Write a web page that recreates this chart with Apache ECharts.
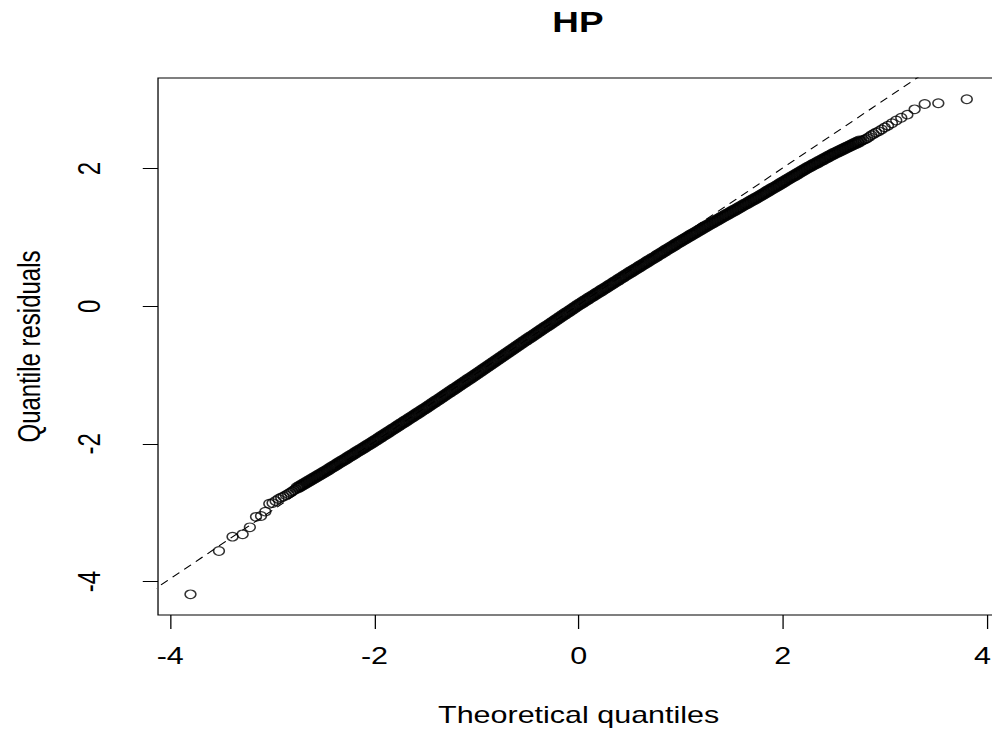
<!DOCTYPE html>
<html>
<head>
<meta charset="utf-8">
<title>HP</title>
<script src="https://cdn.jsdelivr.net/npm/echarts@6.0.0/dist/echarts.min.js"></script>
<style>
  html, body { margin: 0; padding: 0; background: #fff; overflow: hidden; }
  /* the plot is laid out narrow and widened horizontally, like the stretched R device output */
  #chart { width: 781px; height: 730px; transform: scaleX(1.2702); transform-origin: 0 0; }
</style>
</head>
<body>
<div id="chart"></div>
<script>
// Normal Q-Q plot of quantile residuals (model "HP").
const chartTitle = 'HP';
const xTitle = 'Theoretical quantiles';
const yTitle = 'Quantile residuals';
const xTicks = [-4, -2, 0, 2, 4];
const yTicks = [-4, -2, 0, 2];

// reference line (qqline): residual = intercept + slope * theoretical
const qqIntercept = 0.021;
const qqSlope = 0.995;

// sparse lower tail [theoretical, sample]
const lowerTail = [
  [-3.802,-4.186],[-3.523,-3.557],[-3.390,-3.349],[-3.291,-3.314],[-3.220,-3.212],
  [-3.160,-3.060],[-3.111,-3.048],[-3.069,-2.985],[-3.030,-2.870],[-2.998,-2.860],
  [-2.968,-2.830],[-2.940,-2.800],[-2.913,-2.780],[-2.890,-2.765],[-2.867,-2.745],
  [-2.846,-2.727],[-2.826,-2.709],[-2.807,-2.691],[-2.789,-2.674],[-2.772,-2.657]
];

// dense body, lower part
const bodyLow = [
  [-2.750,-2.635],[-2.725,-2.613],[-2.700,-2.591],[-2.675,-2.569],[-2.650,-2.548],[-2.625,-2.526],
  [-2.600,-2.504],[-2.575,-2.482],[-2.550,-2.460],[-2.525,-2.438],[-2.500,-2.417],
  [-2.475,-2.394],[-2.450,-2.371],[-2.425,-2.348],[-2.400,-2.325],[-2.375,-2.302],[-2.350,-2.279],
  [-2.325,-2.257],[-2.300,-2.234],[-2.275,-2.211],[-2.250,-2.188],
  [-2.225,-2.165],[-2.200,-2.142],[-2.175,-2.119],[-2.150,-2.096],[-2.125,-2.073],[-2.100,-2.051],
  [-2.075,-2.028],[-2.050,-2.005],[-2.025,-1.982],[-2.000,-1.959],
  [-1.975,-1.935],[-1.950,-1.911],[-1.925,-1.887],[-1.900,-1.864],[-1.875,-1.840],[-1.850,-1.816],
  [-1.825,-1.792],[-1.800,-1.768],[-1.775,-1.744],[-1.750,-1.720],
  [-1.725,-1.696],[-1.700,-1.673],[-1.675,-1.649],[-1.650,-1.625],[-1.625,-1.601],[-1.600,-1.577],
  [-1.575,-1.553],[-1.550,-1.529],[-1.525,-1.505],[-1.500,-1.481],
  [-1.475,-1.457],[-1.450,-1.432],[-1.425,-1.407],[-1.400,-1.382],[-1.375,-1.357],[-1.350,-1.332],
  [-1.325,-1.307],[-1.300,-1.283],[-1.275,-1.258],[-1.250,-1.233],
  [-1.225,-1.208],[-1.200,-1.183],[-1.175,-1.158],[-1.150,-1.133],[-1.125,-1.108],[-1.100,-1.084],
  [-1.075,-1.059],[-1.050,-1.034],[-1.025,-1.009],[-1.000,-0.984]
];

// dense body, middle part
const bodyMid = [
  [-0.975,-0.959],[-0.950,-0.933],[-0.925,-0.908],[-0.900,-0.883],[-0.875,-0.857],[-0.850,-0.832],
  [-0.825,-0.806],[-0.800,-0.781],[-0.775,-0.756],[-0.750,-0.730],
  [-0.725,-0.705],[-0.700,-0.680],[-0.675,-0.654],[-0.650,-0.629],[-0.625,-0.603],[-0.600,-0.578],
  [-0.575,-0.553],[-0.550,-0.527],[-0.525,-0.502],[-0.500,-0.477],
  [-0.475,-0.452],[-0.450,-0.427],[-0.425,-0.402],[-0.400,-0.377],[-0.375,-0.352],[-0.350,-0.327],
  [-0.325,-0.302],[-0.300,-0.278],[-0.275,-0.253],[-0.250,-0.228],
  [-0.225,-0.203],[-0.200,-0.178],[-0.175,-0.153],[-0.150,-0.128],[-0.125,-0.103],[-0.100,-0.079],
  [-0.075,-0.054],[-0.050,-0.029],[-0.025,-0.004],[0.000,0.021],
  [0.025,0.044],[0.050,0.068],[0.075,0.091],[0.100,0.115],[0.125,0.138],[0.150,0.161],
  [0.175,0.185],[0.200,0.208],[0.225,0.231],[0.250,0.255],
  [0.275,0.278],[0.300,0.302],[0.325,0.325],[0.350,0.348],[0.375,0.372],[0.400,0.395],
  [0.425,0.418],[0.450,0.442],[0.475,0.465],[0.500,0.489],
  [0.525,0.511],[0.550,0.534],[0.575,0.557],[0.600,0.580],[0.625,0.603],[0.650,0.626],
  [0.675,0.649],[0.700,0.672],[0.725,0.694],[0.750,0.717],
  [0.775,0.740],[0.800,0.763],[0.825,0.786],[0.850,0.809],[0.875,0.832],[0.900,0.855],
  [0.925,0.877],[0.950,0.900],[0.975,0.923],[1.000,0.946]
];

// dense body, upper part (bends below the reference line)
const bodyHigh = [
  [1.025,0.968],[1.050,0.990],[1.075,1.012],[1.100,1.034],[1.125,1.055],[1.150,1.077],[1.175,1.099],[1.200,1.121],
  [1.225,1.143],[1.250,1.165],[1.275,1.186],[1.300,1.207],[1.325,1.227],[1.350,1.248],[1.375,1.269],[1.400,1.290],
  [1.425,1.311],[1.450,1.332],[1.475,1.353],[1.500,1.374],[1.525,1.394],[1.550,1.415],[1.575,1.436],[1.600,1.457],
  [1.625,1.478],[1.650,1.499],[1.675,1.520],[1.700,1.541],[1.725,1.561],[1.750,1.582],[1.775,1.604],[1.800,1.626],
  [1.825,1.648],[1.850,1.670],[1.875,1.692],[1.900,1.714],[1.925,1.735],[1.950,1.757],[1.975,1.779],[2.000,1.801],
  [2.025,1.823],[2.050,1.845],[2.075,1.867],[2.100,1.889],[2.125,1.910],[2.150,1.932],[2.175,1.954],[2.200,1.976],
  [2.225,1.998],[2.250,2.020],[2.275,2.040],[2.300,2.060],[2.325,2.079],[2.350,2.099],[2.375,2.119],[2.400,2.139],
  [2.425,2.159],[2.450,2.179],[2.475,2.199],[2.500,2.219],[2.525,2.236],[2.550,2.254],[2.575,2.272],[2.600,2.290],
  [2.625,2.308],[2.650,2.326],[2.675,2.344],[2.700,2.362],[2.725,2.379],[2.750,2.397]
];

// sparse upper tail [theoretical, sample]
const upperTail = [
  [2.772,2.407],[2.789,2.417],[2.807,2.428],[2.826,2.442],[2.846,2.462],[2.867,2.488],
  [2.890,2.505],[2.913,2.525],[2.940,2.545],[2.968,2.570],[2.998,2.600],[3.030,2.625],
  [3.069,2.660],[3.111,2.700],[3.160,2.740],[3.220,2.785],[3.291,2.863],[3.390,2.940],
  [3.523,2.951],[3.802,3.009]
];

const FONT = '"Liberation Sans", Arial, Helvetica, sans-serif';
const INK = '#000';
const xLast = xTicks[xTicks.length - 1];

// the abline spans the whole panel and is clipped by the grid
const lineData = [-5, 5].map(function (x) { return [x, qqIntercept + qqSlope * x]; });

const chart = echarts.init(document.getElementById('chart'), null, { renderer: 'svg' });

chart.setOption({
  animation: false,
  backgroundColor: '#fff',
  title: {
    text: chartTitle,
    left: 455,
    top: 7,
    padding: 0,
    textAlign: 'center',
    textVerticalAlign: 'top',
    textStyle: { fontFamily: FONT, fontSize: 29, fontWeight: 'bold', color: INK }
  },
  grid: {
    left: 124.4,
    top: 78,
    width: 662.3,
    height: 537,
    outerBoundsMode: 'none',
    containLabel: false,
    show: true,
    borderColor: INK,
    borderWidth: 1,
    backgroundColor: 'transparent'
  },
  xAxis: {
    type: 'value',
    min: -4.12,
    max: 4.12,
    splitLine: { show: false },
    axisLine: { show: false, onZero: false },
    axisTick: { show: true, inside: false, length: 14, customValues: xTicks, lineStyle: { color: INK, width: 1 } },
    axisLabel: {
      customValues: xTicks,
      margin: 29,
      fontSize: 24,
      fontFamily: FONT,
      color: INK,
      // the right-most label sits at the page edge; nudge it inward a little
      formatter: function (v) { return v === xLast ? '{edge|' + v + '}' : String(v); },
      rich: { edge: { fontSize: 24, fontFamily: FONT, color: INK, padding: [0, 7, 0, 0] } }
    },
    name: xTitle,
    nameLocation: 'middle',
    nameGap: 88,
    nameTextStyle: { fontSize: 24, fontFamily: FONT, color: INK }
  },
  yAxis: {
    type: 'value',
    min: -4.487,
    max: 3.318,
    splitLine: { show: false },
    axisLine: { show: false, onZero: false },
    axisTick: { show: true, inside: false, length: 12, customValues: yTicks, lineStyle: { color: INK, width: 1 } },
    axisLabel: { customValues: yTicks, rotate: 90, margin: 42, fontSize: 24, fontFamily: FONT, color: INK },
    name: yTitle,
    nameLocation: 'middle',
    nameGap: 89,
    nameTextStyle: { fontSize: 24, fontFamily: FONT, color: INK }
  },
  series: [
    {
      type: 'scatter',
      name: 'body',
      data: bodyLow.concat(bodyMid, bodyHigh),
      symbol: 'circle',
      symbolSize: 9,
      silent: true,
      itemStyle: { color: 'rgba(0,0,0,0)', borderColor: INK, borderWidth: 2.6 },
      z: 2
    },
    {
      type: 'scatter',
      name: 'tails',
      data: lowerTail.concat(upperTail),
      symbol: 'circle',
      symbolSize: 8.5,
      silent: true,
      itemStyle: { color: 'rgba(0,0,0,0)', borderColor: INK, borderWidth: 1.2 },
      z: 2
    },
    {
      type: 'line',
      name: 'qqline',
      data: lineData,
      symbol: 'none',
      clip: true,
      silent: true,
      lineStyle: { color: INK, width: 1, type: [7, 5] },
      z: 3
    }
  ]
});
</script>
</body>
</html>
